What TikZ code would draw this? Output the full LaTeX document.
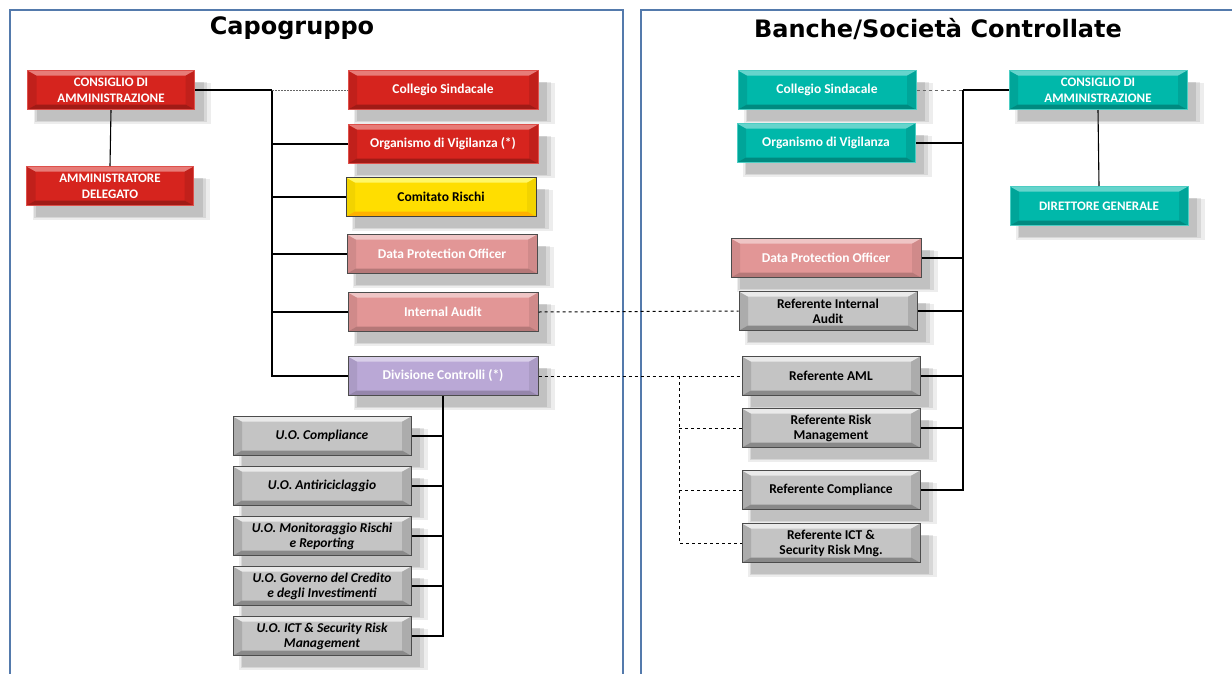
\documentclass[tikz,border=0pt]{standalone}
\usepackage{fontspec}
\setmainfont{Carlito}
\newfontfamily\titlefont{DejaVu Sans}
\usetikzlibrary{positioning, shadows, calc}
\definecolor{cdared}{RGB}{214, 36, 30}
\definecolor{sharedteal}{RGB}{0, 184, 170}
\definecolor{dpopink}{RGB}{226, 150, 150}
\definecolor{divlilac}{RGB}{186, 168, 214}
\definecolor{riskyellow}{RGB}{255, 222, 0}
\definecolor{refgray}{RGB}{196, 196, 196}
\definecolor{panelblue}{RGB}{84, 122, 172}

\begin{document}
\begin{tikzpicture}[
    x=1pt, y=-1pt,
    node distance=10pt,
    bevel/.style n args={3}{path picture={
        \path (path picture bounding box.north west) coordinate (bnw)
              (path picture bounding box.north east) coordinate (bne)
              (path picture bounding box.south west) coordinate (bsw)
              (path picture bounding box.south east) coordinate (bse);
        \fill[#3] (bnw) -- ($(bnw)+(9pt,-5pt)$) -- ($(bsw)+(9pt,5pt)$) -- (bsw) -- cycle;
        \fill[#3] (bne) -- ($(bne)+(-9pt,-5pt)$) -- ($(bse)+(-9pt,5pt)$) -- (bse) -- cycle;
        \fill[#1] (bnw) -- (bne) -- ($(bne)+(-9pt,-5pt)$) -- ($(bnw)+(9pt,-5pt)$) -- cycle;
        \fill[#2] (bsw) -- (bse) -- ($(bse)+(-9pt,5pt)$) -- ($(bsw)+(9pt,5pt)$) -- cycle;
    }},
    softshadow/.style={
        drop shadow={shadow xshift=11pt, shadow yshift=-13pt, shadow scale=1.06, opacity=.07, fill=black},
        drop shadow={shadow xshift=10pt, shadow yshift=-12pt, shadow scale=1.03, opacity=.09, fill=black},
        drop shadow={shadow xshift=9pt, shadow yshift=-11pt, opacity=.1, fill=black}},
    box/.style={rectangle, line width=1pt, minimum width=190pt, minimum height=39pt, inner sep=2pt, align=center, font=\fontsize{13.5}{15}\selectfont\bfseries, softshadow},
    redbox/.style={box, draw=cdared!80!white, fill=cdared, bevel={cdared!60!white}{cdared!75!black}{cdared!90!black}, text=white},
    tealbox/.style={box, draw=sharedteal!70!white, fill=sharedteal, bevel={sharedteal!60!white}{sharedteal!75!black}{sharedteal!90!black}, text=white, minimum width=178pt},
    pinkbox/.style={box, draw=black!70, fill=dpopink, bevel={dpopink!55!white}{dpopink!80!black}{dpopink!92!black}, text=white},
    lilacbox/.style={box, draw=black!70, fill=divlilac, bevel={divlilac!55!white}{divlilac!80!black}{divlilac!92!black}, text=white},
    yellowbox/.style={box, draw=black!75, fill=riskyellow, bevel={yellow!60!white}{riskyellow!80!red}{riskyellow!95!black}, text=black},
    graybox/.style={box, draw=black!70, fill=refgray, bevel={refgray!35!white}{refgray!70!black}{refgray!88!black}, text=black, minimum width=178pt},
    uobox/.style={graybox, font=\fontsize{13.5}{15}\selectfont\bfseries\itshape},
    capsbox/.style={font=\fontsize{13}{16}\selectfont\bfseries},
    panel/.style={draw=panelblue, line width=1.8pt},
    title/.style={font=\titlefont\fontsize{24}{26}\selectfont\bfseries},
    trunk/.style={line width=1.8pt},
    branch/.style={line width=1.1pt},
    dotline/.style={dashed, line width=1pt}
]
    % Frame
    \fill[white] (0,0) rectangle (1232,673);
    \useasboundingbox (0,0) rectangle (1232,673);
    \draw[panel] (10,10) rectangle (623,700);
    \draw[panel] (641,10) rectangle (1250,700);
    \node[title] (tcapo) at (292,28) {Capogruppo};
    \node[title] (tsoc) at (938,29) {Banche/Società Controllate};

    % Nodes - Capogruppo
    \node[redbox, capsbox, minimum width=167pt] (cdaL) at (111,90) {CONSIGLIO DI\\AMMINISTRAZIONE};
    \node[redbox, capsbox, minimum width=167pt] (adL) at (110,186) {AMMINISTRATORE\\DELEGATO};
    \node[redbox] (colL) at (443,90) {Collegio Sindacale};
    \node[redbox] (orgL) at (443,144) {Organismo di Vigilanza (*)};
    \node[yellowbox] (crL) at (441,197) {Comitato Rischi};
    \node[pinkbox] (dpoL) at (442,254) {Data Protection Officer};
    \node[pinkbox] (iaL) at (443,312) {Internal Audit};
    \node[lilacbox] (divL) at (443,376) {Divisione Controlli (*)};
    \node[uobox] (uoComp) at (322,436) {U.O. Compliance};
    \node[uobox, below=of uoComp] (uoAml) {U.O. Antiriciclaggio};
    \node[uobox, below=of uoAml] (uoMon) {U.O. Monitoraggio Rischi\\e Reporting};
    \node[uobox, below=of uoMon] (uoGov) {U.O. Governo del Credito\\e degli Investimenti};
    \node[uobox, below=of uoGov] (uoIct) {U.O. ICT \& Security Risk\\Management};

    % Nodes - Controllate
    \node[tealbox] (colR) at (827,90) {Collegio Sindacale};
    \node[tealbox] (orgR) at (826,143) {Organismo di Vigilanza};
    \node[tealbox, capsbox] (cdaR) at (1098,90) {CONSIGLIO DI\\AMMINISTRAZIONE};
    \node[tealbox, capsbox] (dgR) at (1099,206) {DIRETTORE GENERALE};
    \node[pinkbox] (dpoR) at (826,258) {Data Protection Officer};
    \node[graybox] (riaR) at (828,311) {Referente Internal\\Audit};
    \node[graybox] (amlR) at (831,376) {Referente AML};
    \node[graybox] (riskR) at (831,428) {Referente Risk\\Management};
    \node[graybox] (compR) at (831,490) {Referente Compliance};
    \node[graybox] (ictR) at (831,543) {Referente ICT \&\\Security Risk Mng.};

    % Junctions
    \coordinate (jl) at (272,90);
    \coordinate (jr) at (963,90);
    \coordinate (jd) at (679,376);

    % Lines - Capogruppo
    \draw[branch] (cdaL.south) -- (adL.north);
    \draw[trunk] (cdaL.east) -- (jl);
    \draw[trunk] (jl) |- (divL.west);
    \draw[dotline, black!60, line width=.8pt, dash pattern=on 2pt off 1pt] (jl) -- (colL.west);
    \foreach \n in {orgL, crL, dpoL, iaL}
        \draw[branch] (jl |- \n) -- (\n.west);
    \draw[branch] (divL.south) |- (uoIct.east);
    \foreach \n in {uoComp, uoAml, uoMon, uoGov}
        \draw[branch] (divL.south |- \n) -- (\n.east);

    % Lines - Controllate
    \draw[branch] (cdaR.south) -- (dgR.north);
    \draw[trunk] (cdaR.west) -- (jr);
    \draw[trunk] (jr) |- (compR.east);
    \draw[dotline, black!60] (colR.east) -- (jr);
    \foreach \n in {orgR, dpoR, riaR, amlR, riskR}
        \draw[branch] (jr |- \n) -- (\n.east);

    % Lines - cross links
    \draw[dotline] (iaL.east) -- (riaR.west);
    \draw[dotline] (divL.east) -- (amlR.west);
    \draw[dotline] (jd) |- (ictR.west);
    \foreach \n in {riskR, compR}
        \draw[dotline] (jd |- \n) -- (\n.west);
\end{tikzpicture}
\end{document}
